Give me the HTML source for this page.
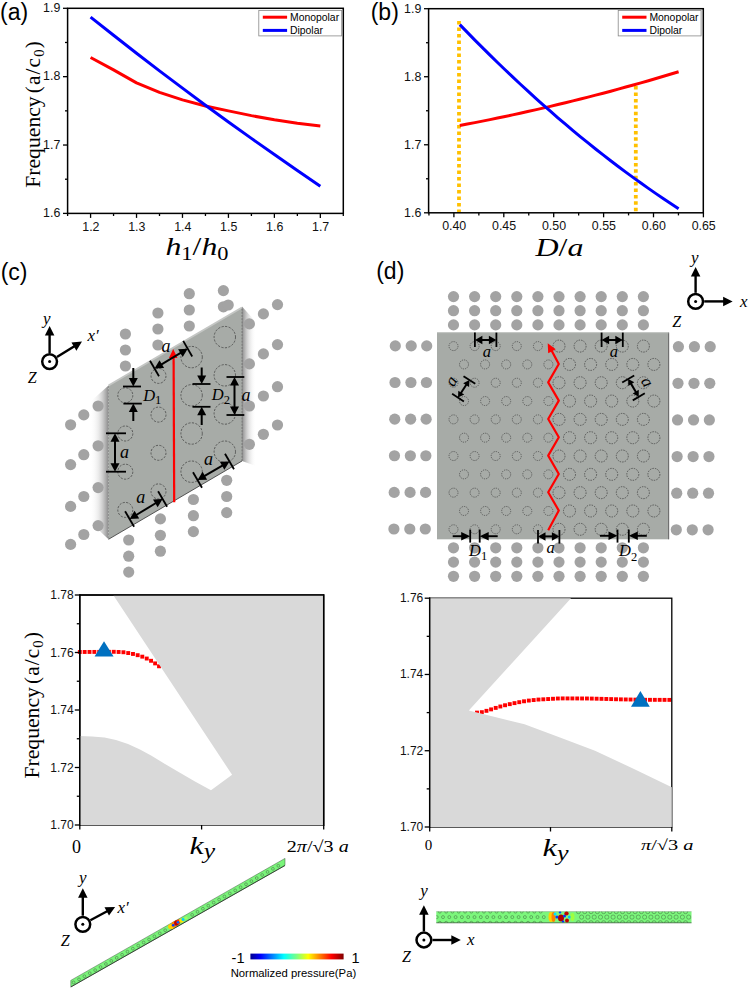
<!DOCTYPE html>
<html><head><meta charset="utf-8"><style>
html,body{margin:0;padding:0;background:#fff;width:750px;height:991px;overflow:hidden}
svg{display:block}
</style></head><body>
<svg width="750" height="991" viewBox="0 0 750 991">
<g id="pa">
<polyline points="90.58,57.52 113.55,69.83 136.53,82.82 159.5,92.39 182.48,99.91 205.45,106.06 228.43,110.85 251.4,115.64 274.38,119.74 297.35,123.16 320.33,125.89" fill="none" stroke="#ff0000" stroke-width="3" stroke-linejoin="round" stroke-linecap="butt" />
<polyline points="90.58,17.19 113.55,35.3 136.53,53.22 159.5,70.86 182.48,88.15 205.45,105.18 228.43,121.93 251.4,138.4 274.38,154.6 297.35,170.53 320.33,186.19" fill="none" stroke="#0000ff" stroke-width="3" stroke-linejoin="round" stroke-linecap="butt" />
<rect x="67.6" y="8.3" width="275.7" height="205.1" fill="none" stroke="#000" stroke-width="1.5"/>
<line x1="63" y1="213.4" x2="67.6" y2="213.4" stroke="#000" stroke-width="1.3" />
<text x="60.3" y="217.2" text-anchor="end" style='font-family:"Liberation Sans", sans-serif;font-size:12.4px;' fill="#111" >1.6</text>
<line x1="63" y1="145.03" x2="67.6" y2="145.03" stroke="#000" stroke-width="1.3" />
<text x="60.3" y="148.83" text-anchor="end" style='font-family:"Liberation Sans", sans-serif;font-size:12.4px;' fill="#111" >1.7</text>
<line x1="63" y1="76.67" x2="67.6" y2="76.67" stroke="#000" stroke-width="1.3" />
<text x="60.3" y="80.47" text-anchor="end" style='font-family:"Liberation Sans", sans-serif;font-size:12.4px;' fill="#111" >1.8</text>
<line x1="63" y1="8.3" x2="67.6" y2="8.3" stroke="#000" stroke-width="1.3" />
<text x="60.3" y="12.1" text-anchor="end" style='font-family:"Liberation Sans", sans-serif;font-size:12.4px;' fill="#111" >1.9</text>
<line x1="65" y1="179.22" x2="67.6" y2="179.22" stroke="#000" stroke-width="1.3" />
<line x1="65" y1="110.85" x2="67.6" y2="110.85" stroke="#000" stroke-width="1.3" />
<line x1="65" y1="42.48" x2="67.6" y2="42.48" stroke="#000" stroke-width="1.3" />
<line x1="90.58" y1="213.4" x2="90.58" y2="217.9" stroke="#000" stroke-width="1.3" />
<text x="90.88" y="230.5" text-anchor="middle" style='font-family:"Liberation Sans", sans-serif;font-size:12.4px;' fill="#111" >1.2</text>
<line x1="136.53" y1="213.4" x2="136.53" y2="217.9" stroke="#000" stroke-width="1.3" />
<text x="136.83" y="230.5" text-anchor="middle" style='font-family:"Liberation Sans", sans-serif;font-size:12.4px;' fill="#111" >1.3</text>
<line x1="182.48" y1="213.4" x2="182.48" y2="217.9" stroke="#000" stroke-width="1.3" />
<text x="182.78" y="230.5" text-anchor="middle" style='font-family:"Liberation Sans", sans-serif;font-size:12.4px;' fill="#111" >1.4</text>
<line x1="228.43" y1="213.4" x2="228.43" y2="217.9" stroke="#000" stroke-width="1.3" />
<text x="228.73" y="230.5" text-anchor="middle" style='font-family:"Liberation Sans", sans-serif;font-size:12.4px;' fill="#111" >1.5</text>
<line x1="274.38" y1="213.4" x2="274.38" y2="217.9" stroke="#000" stroke-width="1.3" />
<text x="274.68" y="230.5" text-anchor="middle" style='font-family:"Liberation Sans", sans-serif;font-size:12.4px;' fill="#111" >1.6</text>
<line x1="320.33" y1="213.4" x2="320.33" y2="217.9" stroke="#000" stroke-width="1.3" />
<text x="320.63" y="230.5" text-anchor="middle" style='font-family:"Liberation Sans", sans-serif;font-size:12.4px;' fill="#111" >1.7</text>
<line x1="67.6" y1="213.4" x2="67.6" y2="216" stroke="#000" stroke-width="1.3" />
<line x1="113.55" y1="213.4" x2="113.55" y2="216" stroke="#000" stroke-width="1.3" />
<line x1="159.5" y1="213.4" x2="159.5" y2="216" stroke="#000" stroke-width="1.3" />
<line x1="205.45" y1="213.4" x2="205.45" y2="216" stroke="#000" stroke-width="1.3" />
<line x1="251.4" y1="213.4" x2="251.4" y2="216" stroke="#000" stroke-width="1.3" />
<line x1="297.35" y1="213.4" x2="297.35" y2="216" stroke="#000" stroke-width="1.3" />
<line x1="343.3" y1="213.4" x2="343.3" y2="216" stroke="#000" stroke-width="1.3" />
<rect x="258.8" y="10.4" width="82.9" height="25.5" fill="#fff" stroke="#888" stroke-width="0.8"/>
<line x1="262.8" y1="17.2" x2="287.1" y2="17.2" stroke="#ff0000" stroke-width="3" />
<line x1="262.8" y1="30.4" x2="287.1" y2="30.4" stroke="#0000ff" stroke-width="3" />
<text x="290" y="20.8" text-anchor="start" style='font-family:"Liberation Sans", sans-serif;font-size:10.4px;' fill="#000" >Monopolar</text>
<text x="290" y="33.8" text-anchor="start" style='font-family:"Liberation Sans", sans-serif;font-size:10.4px;' fill="#000" >Dipolar</text>
</g>
<g id="pb">
<line x1="459" y1="21" x2="459" y2="212.5" stroke="#ffc000" stroke-width="3.8" stroke-dasharray="3.4 3.1"/>
<line x1="635.8" y1="86.1" x2="635.8" y2="212.5" stroke="#ffc000" stroke-width="3.8" stroke-dasharray="3.5 2.9"/>
<polyline points="459.8,125.49 467.34,124.06 474.89,122.61 482.43,121.12 489.98,119.6 497.52,118.06 505.07,116.48 512.61,114.87 520.16,113.23 527.7,111.56 535.25,109.86 542.79,108.13 550.34,106.37 557.88,104.58 565.43,102.76 572.97,100.9 580.52,99.02 588.06,97.1 595.61,95.16 603.15,93.18 610.7,91.18 618.24,89.14 625.79,87.07 633.33,84.98 640.88,82.85 648.42,80.69 655.97,78.5 663.51,76.28 671.06,74.03 678.6,71.75" fill="none" stroke="#ff0000" stroke-width="3" stroke-linejoin="round" stroke-linecap="butt" />
<polyline points="459.8,24.63 467.34,32.4 474.89,40.08 482.43,47.65 489.98,55.12 497.52,62.49 505.07,69.76 512.61,76.92 520.16,83.98 527.7,90.94 535.25,97.8 542.79,104.55 550.34,111.21 557.88,117.76 565.43,124.21 572.97,130.55 580.52,136.8 588.06,142.94 595.61,148.98 603.15,154.91 610.7,160.75 618.24,166.48 625.79,172.11 633.33,177.64 640.88,183.07 648.42,188.39 655.97,193.62 663.51,198.74 671.06,203.75 678.6,208.67" fill="none" stroke="#0000ff" stroke-width="3" stroke-linejoin="round" stroke-linecap="butt" />
<rect x="428.6" y="8.7" width="274.7" height="204.1" fill="none" stroke="#000" stroke-width="1.5"/>
<line x1="424" y1="212.8" x2="428.6" y2="212.8" stroke="#000" stroke-width="1.3" />
<text x="421.3" y="216.6" text-anchor="end" style='font-family:"Liberation Sans", sans-serif;font-size:12.4px;' fill="#111" >1.6</text>
<line x1="424" y1="144.77" x2="428.6" y2="144.77" stroke="#000" stroke-width="1.3" />
<text x="421.3" y="148.57" text-anchor="end" style='font-family:"Liberation Sans", sans-serif;font-size:12.4px;' fill="#111" >1.7</text>
<line x1="424" y1="76.73" x2="428.6" y2="76.73" stroke="#000" stroke-width="1.3" />
<text x="421.3" y="80.53" text-anchor="end" style='font-family:"Liberation Sans", sans-serif;font-size:12.4px;' fill="#111" >1.8</text>
<line x1="424" y1="8.7" x2="428.6" y2="8.7" stroke="#000" stroke-width="1.3" />
<text x="421.3" y="12.5" text-anchor="end" style='font-family:"Liberation Sans", sans-serif;font-size:12.4px;' fill="#111" >1.9</text>
<line x1="426" y1="178.78" x2="428.6" y2="178.78" stroke="#000" stroke-width="1.3" />
<line x1="426" y1="110.75" x2="428.6" y2="110.75" stroke="#000" stroke-width="1.3" />
<line x1="426" y1="42.72" x2="428.6" y2="42.72" stroke="#000" stroke-width="1.3" />
<line x1="453.9" y1="212.8" x2="453.9" y2="217.3" stroke="#000" stroke-width="1.3" />
<text x="454.2" y="229.9" text-anchor="middle" style='font-family:"Liberation Sans", sans-serif;font-size:12.4px;' fill="#111" >0.40</text>
<line x1="503.8" y1="212.8" x2="503.8" y2="217.3" stroke="#000" stroke-width="1.3" />
<text x="504.1" y="229.9" text-anchor="middle" style='font-family:"Liberation Sans", sans-serif;font-size:12.4px;' fill="#111" >0.45</text>
<line x1="553.7" y1="212.8" x2="553.7" y2="217.3" stroke="#000" stroke-width="1.3" />
<text x="554" y="229.9" text-anchor="middle" style='font-family:"Liberation Sans", sans-serif;font-size:12.4px;' fill="#111" >0.50</text>
<line x1="603.6" y1="212.8" x2="603.6" y2="217.3" stroke="#000" stroke-width="1.3" />
<text x="603.9" y="229.9" text-anchor="middle" style='font-family:"Liberation Sans", sans-serif;font-size:12.4px;' fill="#111" >0.55</text>
<line x1="653.5" y1="212.8" x2="653.5" y2="217.3" stroke="#000" stroke-width="1.3" />
<text x="653.8" y="229.9" text-anchor="middle" style='font-family:"Liberation Sans", sans-serif;font-size:12.4px;' fill="#111" >0.60</text>
<line x1="703.4" y1="212.8" x2="703.4" y2="217.3" stroke="#000" stroke-width="1.3" />
<text x="703.7" y="229.9" text-anchor="middle" style='font-family:"Liberation Sans", sans-serif;font-size:12.4px;' fill="#111" >0.65</text>
<line x1="428.95" y1="212.8" x2="428.95" y2="215.4" stroke="#000" stroke-width="1.3" />
<line x1="478.85" y1="212.8" x2="478.85" y2="215.4" stroke="#000" stroke-width="1.3" />
<line x1="528.75" y1="212.8" x2="528.75" y2="215.4" stroke="#000" stroke-width="1.3" />
<line x1="578.65" y1="212.8" x2="578.65" y2="215.4" stroke="#000" stroke-width="1.3" />
<line x1="628.55" y1="212.8" x2="628.55" y2="215.4" stroke="#000" stroke-width="1.3" />
<line x1="678.45" y1="212.8" x2="678.45" y2="215.4" stroke="#000" stroke-width="1.3" />
<rect x="618.2" y="10.4" width="82.9" height="25.5" fill="#fff" stroke="#888" stroke-width="0.8"/>
<line x1="622.2" y1="17.2" x2="646.5" y2="17.2" stroke="#ff0000" stroke-width="3" />
<line x1="622.2" y1="30.4" x2="646.5" y2="30.4" stroke="#0000ff" stroke-width="3" />
<text x="649.4" y="20.8" text-anchor="start" style='font-family:"Liberation Sans", sans-serif;font-size:10.4px;' fill="#000" >Monopolar</text>
<text x="649.4" y="33.8" text-anchor="start" style='font-family:"Liberation Sans", sans-serif;font-size:10.4px;' fill="#000" >Dipolar</text>
</g>
<text x="0" y="20" text-anchor="start" style='font-family:"Liberation Sans", sans-serif;font-size:23px;' fill="#000" >(a)</text>
<text x="370.7" y="20" text-anchor="start" style='font-family:"Liberation Sans", sans-serif;font-size:23px;' fill="#000" >(b)</text>
<text x="0.7" y="280.3" text-anchor="start" style='font-family:"Liberation Sans", sans-serif;font-size:23px;' fill="#000" >(c)</text>
<text x="376.2" y="278.8" text-anchor="start" style='font-family:"Liberation Sans", sans-serif;font-size:23px;' fill="#000" >(d)</text>
<g transform="translate(39.6,187.8) rotate(-90)" style='font-family:"Liberation Serif", serif;font-size:21.2px'><text x="0" y="0" textLength="91.5" lengthAdjust="spacingAndGlyphs">Frequency</text><text x="94.6" y="0" textLength="52" lengthAdjust="spacing">(a/c<tspan font-size="14.8" dy="4">0</tspan><tspan dy="-4">)</tspan></text></g>
<g transform="translate(39.4,778.6) rotate(-90)" style='font-family:"Liberation Serif", serif;font-size:21.2px'><text x="0" y="0" textLength="91.5" lengthAdjust="spacingAndGlyphs">Frequency</text><text x="94.6" y="0" textLength="52" lengthAdjust="spacing">(a/c<tspan font-size="14.8" dy="4">0</tspan><tspan dy="-4">)</tspan></text></g>
<text x="165.5" y="255" textLength="63" lengthAdjust="spacingAndGlyphs" style='font-family:"Liberation Serif", serif;font-size:25.5px;font-style:italic'>h<tspan font-size="18" dy="5" font-style="normal">1</tspan><tspan dy="-5" font-style="normal">/</tspan>h<tspan font-size="18" dy="5" font-style="normal">0</tspan></text>
<text x="535.5" y="255.8" textLength="48" lengthAdjust="spacingAndGlyphs" style='font-family:"Liberation Serif", serif;font-size:25.5px;font-style:italic'>D<tspan font-style="normal">/</tspan>a</text>
<g id="pc">
<defs>
<linearGradient id="shL" x1="0" x2="1" y1="0" y2="0"><stop offset="0" stop-color="#fff" stop-opacity="0"/><stop offset="0.45" stop-color="#d8d8d8" stop-opacity="0.5"/><stop offset="1" stop-color="#8a8a8a" stop-opacity="1"/></linearGradient>
<linearGradient id="shR" x1="0" x2="1" y1="0" y2="0"><stop offset="0" stop-color="#8a8a8a" stop-opacity="1"/><stop offset="0.5" stop-color="#d0d0d0" stop-opacity="0.6"/><stop offset="1" stop-color="#fff" stop-opacity="0"/></linearGradient>
</defs>
<polygon points="90,402 108.5,385.5 108.5,539.3 90,522" fill="url(#shL)" />
<polygon points="242,306.4 256,322 256,466 242,461" fill="url(#shR)" />
<circle cx="125.4" cy="334" r="5.6" fill="#a3a3a3"/>
<circle cx="125.4" cy="350" r="5.6" fill="#a3a3a3"/>
<circle cx="125.4" cy="366" r="5.6" fill="#a3a3a3"/>
<circle cx="157.9" cy="313" r="5.6" fill="#a3a3a3"/>
<circle cx="157.9" cy="329" r="5.6" fill="#a3a3a3"/>
<circle cx="157.9" cy="345" r="5.6" fill="#a3a3a3"/>
<circle cx="189.3" cy="293.7" r="5.6" fill="#a3a3a3"/>
<circle cx="189.3" cy="310" r="5.6" fill="#a3a3a3"/>
<circle cx="189.3" cy="326" r="5.6" fill="#a3a3a3"/>
<circle cx="223.4" cy="290.6" r="5.6" fill="#a3a3a3"/>
<circle cx="223.4" cy="306.8" r="5.6" fill="#a3a3a3"/>
<circle cx="228.2" cy="305" r="5.6" fill="#a3a3a3"/>
<circle cx="98.1" cy="406" r="5.6" fill="#a3a3a3"/>
<circle cx="83.8" cy="414.9" r="5.6" fill="#a3a3a3"/>
<circle cx="70.6" cy="424.8" r="5.6" fill="#a3a3a3"/>
<circle cx="98.1" cy="445.8" r="5.6" fill="#a3a3a3"/>
<circle cx="83.8" cy="454.7" r="5.6" fill="#a3a3a3"/>
<circle cx="70.6" cy="464.6" r="5.6" fill="#a3a3a3"/>
<circle cx="98.1" cy="487.6" r="5.6" fill="#a3a3a3"/>
<circle cx="83.8" cy="496.5" r="5.6" fill="#a3a3a3"/>
<circle cx="70.6" cy="506.4" r="5.6" fill="#a3a3a3"/>
<circle cx="98.1" cy="525.6" r="5.6" fill="#a3a3a3"/>
<circle cx="83.8" cy="534.5" r="5.6" fill="#a3a3a3"/>
<circle cx="70.6" cy="544.4" r="5.6" fill="#a3a3a3"/>
<circle cx="249.4" cy="323.9" r="5.6" fill="#a3a3a3"/>
<circle cx="263.4" cy="313.9" r="5.6" fill="#a3a3a3"/>
<circle cx="277.5" cy="304.6" r="5.6" fill="#a3a3a3"/>
<circle cx="249.4" cy="363.9" r="5.6" fill="#a3a3a3"/>
<circle cx="263.4" cy="353.9" r="5.6" fill="#a3a3a3"/>
<circle cx="277.5" cy="344.6" r="5.6" fill="#a3a3a3"/>
<circle cx="249.4" cy="406" r="5.6" fill="#a3a3a3"/>
<circle cx="263.4" cy="396" r="5.6" fill="#a3a3a3"/>
<circle cx="277.5" cy="386.7" r="5.6" fill="#a3a3a3"/>
<circle cx="249.4" cy="444.3" r="5.6" fill="#a3a3a3"/>
<circle cx="263.4" cy="434.3" r="5.6" fill="#a3a3a3"/>
<circle cx="277.5" cy="425" r="5.6" fill="#a3a3a3"/>
<circle cx="128.7" cy="540" r="5.6" fill="#a3a3a3"/>
<circle cx="128.7" cy="556.2" r="5.6" fill="#a3a3a3"/>
<circle cx="128.7" cy="572.1" r="5.6" fill="#a3a3a3"/>
<circle cx="160.4" cy="518.9" r="5.6" fill="#a3a3a3"/>
<circle cx="160.4" cy="535.3" r="5.6" fill="#a3a3a3"/>
<circle cx="160.4" cy="551.2" r="5.6" fill="#a3a3a3"/>
<circle cx="193.4" cy="499.5" r="5.6" fill="#a3a3a3"/>
<circle cx="193.4" cy="515.7" r="5.6" fill="#a3a3a3"/>
<circle cx="193.4" cy="531.6" r="5.6" fill="#a3a3a3"/>
<circle cx="226.7" cy="480.3" r="5.6" fill="#a3a3a3"/>
<circle cx="226.7" cy="496.5" r="5.6" fill="#a3a3a3"/>
<circle cx="226.7" cy="512.6" r="5.6" fill="#a3a3a3"/>
<polygon points="108.5,385.5 242,307.5 242,461 108.5,539.3" fill="#a7aba7" />
<polyline points="108.5,385.5 242,307.5" stroke="#c4c6c4" stroke-width="2" fill="none"/>
<polyline points="108.5,386 108.5,539.3" fill="none" stroke="#6a6a6a" stroke-width="0.5" stroke-dasharray="2 1.2"/>
<polyline points="242,461 242,307.5" fill="none" stroke="#555" stroke-width="0.55" stroke-dasharray="2 1.2"/>
<polyline points="108.5,539.3 242,461" fill="none" stroke="#333" stroke-width="0.8"/>
<circle cx="125.3" cy="395.3" r="7.5" fill="none" stroke="#3a3a3a" stroke-width="0.7" stroke-dasharray="2.2 1.4"/>
<circle cx="125.3" cy="433.5" r="7.5" fill="none" stroke="#3a3a3a" stroke-width="0.7" stroke-dasharray="2.2 1.4"/>
<circle cx="125.3" cy="471.7" r="7.5" fill="none" stroke="#3a3a3a" stroke-width="0.7" stroke-dasharray="2.2 1.4"/>
<circle cx="125.3" cy="509.9" r="7.5" fill="none" stroke="#3a3a3a" stroke-width="0.7" stroke-dasharray="2.2 1.4"/>
<circle cx="158.5" cy="375.9" r="7.5" fill="none" stroke="#3a3a3a" stroke-width="0.7" stroke-dasharray="2.2 1.4"/>
<circle cx="158.5" cy="414.6" r="7.5" fill="none" stroke="#3a3a3a" stroke-width="0.7" stroke-dasharray="2.2 1.4"/>
<circle cx="158.5" cy="452.8" r="7.5" fill="none" stroke="#3a3a3a" stroke-width="0.7" stroke-dasharray="2.2 1.4"/>
<circle cx="158.5" cy="491.4" r="7.5" fill="none" stroke="#3a3a3a" stroke-width="0.7" stroke-dasharray="2.2 1.4"/>
<circle cx="191.6" cy="357.1" r="10.7" fill="none" stroke="#3a3a3a" stroke-width="0.7" stroke-dasharray="2.2 1.4"/>
<circle cx="191.6" cy="395.3" r="10.7" fill="none" stroke="#3a3a3a" stroke-width="0.7" stroke-dasharray="2.2 1.4"/>
<circle cx="191.6" cy="433.5" r="10.7" fill="none" stroke="#3a3a3a" stroke-width="0.7" stroke-dasharray="2.2 1.4"/>
<circle cx="191.6" cy="471.7" r="10.7" fill="none" stroke="#3a3a3a" stroke-width="0.7" stroke-dasharray="2.2 1.4"/>
<circle cx="224.8" cy="337.1" r="10.7" fill="none" stroke="#3a3a3a" stroke-width="0.7" stroke-dasharray="2.2 1.4"/>
<circle cx="224.8" cy="375.3" r="10.7" fill="none" stroke="#3a3a3a" stroke-width="0.7" stroke-dasharray="2.2 1.4"/>
<circle cx="224.8" cy="413.5" r="10.7" fill="none" stroke="#3a3a3a" stroke-width="0.7" stroke-dasharray="2.2 1.4"/>
<circle cx="224.8" cy="451.7" r="10.7" fill="none" stroke="#3a3a3a" stroke-width="0.7" stroke-dasharray="2.2 1.4"/>
<line x1="173.6" y1="357" x2="174.2" y2="502.3" stroke="#ff0000" stroke-width="2.2" />
<polygon points="173.2,349 177.45,358 168.95,358" fill="#ff0000" />
<line x1="133.3" y1="368" x2="133.3" y2="380" stroke="#000" stroke-width="2" />
<polygon points="133.3,386.5 128.8,378 137.8,378" fill="#000" />
<line x1="123" y1="386.5" x2="141" y2="386.5" stroke="#000" stroke-width="1.8" />
<line x1="123.4" y1="403.6" x2="141.8" y2="403.6" stroke="#000" stroke-width="1.8" />
<line x1="133.3" y1="421" x2="133.3" y2="410" stroke="#000" stroke-width="2" />
<polygon points="133.3,403.6 137.8,412.1 128.8,412.1" fill="#000" />
<text x="143.2" y="400.6" style='font-family:"Liberation Serif", serif;font-size:16.5px;font-style:italic'>D<tspan font-size="12.5" dy="3.8" font-style="normal">1</tspan></text>
<line x1="201.7" y1="367.5" x2="201.7" y2="378" stroke="#000" stroke-width="2" />
<polygon points="201.7,384 197.2,375.5 206.2,375.5" fill="#000" />
<line x1="192.5" y1="384" x2="210.5" y2="384" stroke="#000" stroke-width="1.8" />
<line x1="192.5" y1="406.8" x2="210.5" y2="406.8" stroke="#000" stroke-width="1.8" />
<line x1="201.7" y1="425" x2="201.7" y2="413" stroke="#000" stroke-width="2" />
<polygon points="201.7,406.8 206.2,415.3 197.2,415.3" fill="#000" />
<text x="211.8" y="400.2" style='font-family:"Liberation Serif", serif;font-size:16.5px;font-style:italic'>D<tspan font-size="12.5" dy="3.8" font-style="normal">2</tspan></text>
<line x1="226.5" y1="377" x2="244.3" y2="377" stroke="#000" stroke-width="1.8" />
<line x1="226.5" y1="415" x2="244.3" y2="415" stroke="#000" stroke-width="1.8" />
<line x1="234.5" y1="383.8" x2="234.5" y2="408.2" stroke="#000" stroke-width="2" />
<polygon points="234.5,415 230,406.5 239,406.5" fill="#000" />
<polygon points="234.5,377 239,385.5 230,385.5" fill="#000" />
<line x1="106" y1="433.3" x2="126" y2="433.3" stroke="#000" stroke-width="1.8" />
<line x1="106" y1="471.7" x2="126" y2="471.7" stroke="#000" stroke-width="1.8" />
<line x1="115" y1="440.1" x2="115" y2="464.9" stroke="#000" stroke-width="2" />
<polygon points="115,471.7 110.5,463.2 119.5,463.2" fill="#000" />
<polygon points="115,433.3 119.5,441.8 110.5,441.8" fill="#000" />
<text x="241.6" y="400.5" style='font-family:"Liberation Serif", serif;font-size:18px;font-style:italic'>a</text>
<text x="120" y="458" style='font-family:"Liberation Serif", serif;font-size:18px;font-style:italic'>a</text>
<line x1="150" y1="360.71" x2="159" y2="376.29" stroke="#000" stroke-width="1.8" />
<line x1="183.2" y1="340.91" x2="192.2" y2="356.49" stroke="#000" stroke-width="1.8" />
<line x1="160.34" y1="365.02" x2="181.86" y2="352.18" stroke="#000" stroke-width="2" />
<polygon points="187.7,348.7 182.7,356.92 178.09,349.19" fill="#000" />
<polygon points="154.5,368.5 159.5,360.28 164.11,368.01" fill="#000" />
<text x="166" y="352" text-anchor="middle" style='font-family:"Liberation Serif", serif;font-size:18px;font-style:italic'>a</text>
<line x1="125.1" y1="511.21" x2="134.1" y2="526.79" stroke="#000" stroke-width="1.8" />
<line x1="158.1" y1="491.21" x2="167.1" y2="506.79" stroke="#000" stroke-width="1.8" />
<line x1="135.42" y1="515.48" x2="156.78" y2="502.52" stroke="#000" stroke-width="2" />
<polygon points="162.6,499 157.66,507.25 153,499.56" fill="#000" />
<polygon points="129.6,519 134.54,510.75 139.2,518.44" fill="#000" />
<text x="140.8" y="502.7" text-anchor="middle" style='font-family:"Liberation Serif", serif;font-size:18px;font-style:italic'>a</text>
<line x1="193" y1="472.21" x2="202" y2="487.79" stroke="#000" stroke-width="1.8" />
<line x1="225" y1="453.71" x2="234" y2="469.29" stroke="#000" stroke-width="1.8" />
<line x1="203.39" y1="476.6" x2="223.61" y2="464.9" stroke="#000" stroke-width="2" />
<polygon points="229.5,461.5 224.39,469.65 219.89,461.86" fill="#000" />
<polygon points="197.5,480 202.61,471.85 207.11,479.64" fill="#000" />
<text x="208.5" y="465" text-anchor="middle" style='font-family:"Liberation Serif", serif;font-size:18px;font-style:italic'>a</text>
<circle cx="49.6" cy="361.6" r="7.4" fill="#fff" stroke="#000" stroke-width="2.5"/>
<circle cx="49.6" cy="361.6" r="1.5" fill="#000"/>
<line x1="49.6" y1="353" x2="49.6" y2="334" stroke="#000" stroke-width="2.4" />
<polygon points="49.6,326 54.35,335.5 44.85,335.5" fill="#000" />
<line x1="56.92" y1="357.08" x2="75.19" y2="345.8" stroke="#000" stroke-width="2.4" />
<polygon points="82,341.6 76.41,350.63 71.42,342.55" fill="#000" />
<text x="46.7" y="324" text-anchor="middle" style='font-family:"Liberation Serif", serif;font-size:17px;font-style:italic'>y</text>
<text x="32.3" y="383.3" text-anchor="middle" style='font-family:"Liberation Serif", serif;font-size:16px;font-style:italic'>Z</text>
<text x="87.5" y="340.7" style='font-family:"Liberation Serif", serif;font-size:17px;font-style:italic'>x&#8242;</text>
</g>
<g id="pd">
<circle cx="453.5" cy="296.6" r="5.6" fill="#a3a3a3"/>
<circle cx="453.5" cy="310.7" r="5.6" fill="#a3a3a3"/>
<circle cx="453.5" cy="324.9" r="5.6" fill="#a3a3a3"/>
<circle cx="453.5" cy="547.8" r="5.6" fill="#a3a3a3"/>
<circle cx="453.5" cy="562.1" r="5.6" fill="#a3a3a3"/>
<circle cx="453.5" cy="576.3" r="5.6" fill="#a3a3a3"/>
<circle cx="474.6" cy="296.6" r="5.6" fill="#a3a3a3"/>
<circle cx="474.6" cy="310.7" r="5.6" fill="#a3a3a3"/>
<circle cx="474.6" cy="324.9" r="5.6" fill="#a3a3a3"/>
<circle cx="474.6" cy="547.8" r="5.6" fill="#a3a3a3"/>
<circle cx="474.6" cy="562.1" r="5.6" fill="#a3a3a3"/>
<circle cx="474.6" cy="576.3" r="5.6" fill="#a3a3a3"/>
<circle cx="495.7" cy="296.6" r="5.6" fill="#a3a3a3"/>
<circle cx="495.7" cy="310.7" r="5.6" fill="#a3a3a3"/>
<circle cx="495.7" cy="324.9" r="5.6" fill="#a3a3a3"/>
<circle cx="495.7" cy="547.8" r="5.6" fill="#a3a3a3"/>
<circle cx="495.7" cy="562.1" r="5.6" fill="#a3a3a3"/>
<circle cx="495.7" cy="576.3" r="5.6" fill="#a3a3a3"/>
<circle cx="516.8" cy="296.6" r="5.6" fill="#a3a3a3"/>
<circle cx="516.8" cy="310.7" r="5.6" fill="#a3a3a3"/>
<circle cx="516.8" cy="324.9" r="5.6" fill="#a3a3a3"/>
<circle cx="516.8" cy="547.8" r="5.6" fill="#a3a3a3"/>
<circle cx="516.8" cy="562.1" r="5.6" fill="#a3a3a3"/>
<circle cx="516.8" cy="576.3" r="5.6" fill="#a3a3a3"/>
<circle cx="537.9" cy="296.6" r="5.6" fill="#a3a3a3"/>
<circle cx="537.9" cy="310.7" r="5.6" fill="#a3a3a3"/>
<circle cx="537.9" cy="324.9" r="5.6" fill="#a3a3a3"/>
<circle cx="537.9" cy="547.8" r="5.6" fill="#a3a3a3"/>
<circle cx="537.9" cy="562.1" r="5.6" fill="#a3a3a3"/>
<circle cx="537.9" cy="576.3" r="5.6" fill="#a3a3a3"/>
<circle cx="559" cy="296.6" r="5.6" fill="#a3a3a3"/>
<circle cx="559" cy="310.7" r="5.6" fill="#a3a3a3"/>
<circle cx="559" cy="324.9" r="5.6" fill="#a3a3a3"/>
<circle cx="559" cy="547.8" r="5.6" fill="#a3a3a3"/>
<circle cx="559" cy="562.1" r="5.6" fill="#a3a3a3"/>
<circle cx="559" cy="576.3" r="5.6" fill="#a3a3a3"/>
<circle cx="580.1" cy="296.6" r="5.6" fill="#a3a3a3"/>
<circle cx="580.1" cy="310.7" r="5.6" fill="#a3a3a3"/>
<circle cx="580.1" cy="324.9" r="5.6" fill="#a3a3a3"/>
<circle cx="580.1" cy="547.8" r="5.6" fill="#a3a3a3"/>
<circle cx="580.1" cy="562.1" r="5.6" fill="#a3a3a3"/>
<circle cx="580.1" cy="576.3" r="5.6" fill="#a3a3a3"/>
<circle cx="601.2" cy="296.6" r="5.6" fill="#a3a3a3"/>
<circle cx="601.2" cy="310.7" r="5.6" fill="#a3a3a3"/>
<circle cx="601.2" cy="324.9" r="5.6" fill="#a3a3a3"/>
<circle cx="601.2" cy="547.8" r="5.6" fill="#a3a3a3"/>
<circle cx="601.2" cy="562.1" r="5.6" fill="#a3a3a3"/>
<circle cx="601.2" cy="576.3" r="5.6" fill="#a3a3a3"/>
<circle cx="622.3" cy="296.6" r="5.6" fill="#a3a3a3"/>
<circle cx="622.3" cy="310.7" r="5.6" fill="#a3a3a3"/>
<circle cx="622.3" cy="324.9" r="5.6" fill="#a3a3a3"/>
<circle cx="622.3" cy="547.8" r="5.6" fill="#a3a3a3"/>
<circle cx="622.3" cy="562.1" r="5.6" fill="#a3a3a3"/>
<circle cx="622.3" cy="576.3" r="5.6" fill="#a3a3a3"/>
<circle cx="643.4" cy="296.6" r="5.6" fill="#a3a3a3"/>
<circle cx="643.4" cy="310.7" r="5.6" fill="#a3a3a3"/>
<circle cx="643.4" cy="324.9" r="5.6" fill="#a3a3a3"/>
<circle cx="643.4" cy="547.8" r="5.6" fill="#a3a3a3"/>
<circle cx="643.4" cy="562.1" r="5.6" fill="#a3a3a3"/>
<circle cx="643.4" cy="576.3" r="5.6" fill="#a3a3a3"/>
<circle cx="395.3" cy="345.9" r="5.6" fill="#a3a3a3"/>
<circle cx="411.2" cy="345.9" r="5.6" fill="#a3a3a3"/>
<circle cx="426.7" cy="345.9" r="5.6" fill="#a3a3a3"/>
<circle cx="678.4" cy="346.7" r="5.6" fill="#a3a3a3"/>
<circle cx="694.4" cy="346.7" r="5.6" fill="#a3a3a3"/>
<circle cx="710.2" cy="346.7" r="5.6" fill="#a3a3a3"/>
<circle cx="395.02" cy="382.52" r="5.6" fill="#a3a3a3"/>
<circle cx="410.92" cy="382.52" r="5.6" fill="#a3a3a3"/>
<circle cx="426.42" cy="382.52" r="5.6" fill="#a3a3a3"/>
<circle cx="677.98" cy="383.32" r="5.6" fill="#a3a3a3"/>
<circle cx="693.98" cy="383.32" r="5.6" fill="#a3a3a3"/>
<circle cx="709.78" cy="383.32" r="5.6" fill="#a3a3a3"/>
<circle cx="394.74" cy="419.14" r="5.6" fill="#a3a3a3"/>
<circle cx="410.64" cy="419.14" r="5.6" fill="#a3a3a3"/>
<circle cx="426.14" cy="419.14" r="5.6" fill="#a3a3a3"/>
<circle cx="677.56" cy="419.94" r="5.6" fill="#a3a3a3"/>
<circle cx="693.56" cy="419.94" r="5.6" fill="#a3a3a3"/>
<circle cx="709.36" cy="419.94" r="5.6" fill="#a3a3a3"/>
<circle cx="394.46" cy="455.76" r="5.6" fill="#a3a3a3"/>
<circle cx="410.36" cy="455.76" r="5.6" fill="#a3a3a3"/>
<circle cx="425.86" cy="455.76" r="5.6" fill="#a3a3a3"/>
<circle cx="677.14" cy="456.56" r="5.6" fill="#a3a3a3"/>
<circle cx="693.14" cy="456.56" r="5.6" fill="#a3a3a3"/>
<circle cx="708.94" cy="456.56" r="5.6" fill="#a3a3a3"/>
<circle cx="394.18" cy="492.38" r="5.6" fill="#a3a3a3"/>
<circle cx="410.08" cy="492.38" r="5.6" fill="#a3a3a3"/>
<circle cx="425.58" cy="492.38" r="5.6" fill="#a3a3a3"/>
<circle cx="676.72" cy="493.18" r="5.6" fill="#a3a3a3"/>
<circle cx="692.72" cy="493.18" r="5.6" fill="#a3a3a3"/>
<circle cx="708.52" cy="493.18" r="5.6" fill="#a3a3a3"/>
<circle cx="393.9" cy="529" r="5.6" fill="#a3a3a3"/>
<circle cx="409.8" cy="529" r="5.6" fill="#a3a3a3"/>
<circle cx="425.3" cy="529" r="5.6" fill="#a3a3a3"/>
<circle cx="676.3" cy="529.8" r="5.6" fill="#a3a3a3"/>
<circle cx="692.3" cy="529.8" r="5.6" fill="#a3a3a3"/>
<circle cx="708.1" cy="529.8" r="5.6" fill="#a3a3a3"/>
<rect x="437" y="332.5" width="232" height="206.8" fill="#a7aba7"/>
<line x1="668.6" y1="332.5" x2="668.6" y2="539.3" stroke="#707070" stroke-width="1.2" />
<line x1="437" y1="332.8" x2="669" y2="332.8" stroke="#b8bab8" stroke-width="0.8" />
<circle cx="453.5" cy="346.1" r="4.5" fill="none" stroke="#3a3a3a" stroke-width="0.65" stroke-dasharray="1.3 1"/>
<circle cx="474.6" cy="346.1" r="4.5" fill="none" stroke="#3a3a3a" stroke-width="0.65" stroke-dasharray="1.3 1"/>
<circle cx="495.7" cy="346.1" r="4.5" fill="none" stroke="#3a3a3a" stroke-width="0.65" stroke-dasharray="1.3 1"/>
<circle cx="516.8" cy="346.1" r="4.5" fill="none" stroke="#3a3a3a" stroke-width="0.65" stroke-dasharray="1.3 1"/>
<circle cx="537.9" cy="346.1" r="4.5" fill="none" stroke="#3a3a3a" stroke-width="0.65" stroke-dasharray="1.3 1"/>
<circle cx="559" cy="346.1" r="6" fill="none" stroke="#3a3a3a" stroke-width="0.7" stroke-dasharray="1.5 1.1"/>
<circle cx="580.1" cy="346.1" r="6" fill="none" stroke="#3a3a3a" stroke-width="0.7" stroke-dasharray="1.5 1.1"/>
<circle cx="601.2" cy="346.1" r="6" fill="none" stroke="#3a3a3a" stroke-width="0.7" stroke-dasharray="1.5 1.1"/>
<circle cx="622.3" cy="346.1" r="6" fill="none" stroke="#3a3a3a" stroke-width="0.7" stroke-dasharray="1.5 1.1"/>
<circle cx="643.4" cy="346.1" r="6" fill="none" stroke="#3a3a3a" stroke-width="0.7" stroke-dasharray="1.5 1.1"/>
<circle cx="464" cy="364.42" r="4.5" fill="none" stroke="#3a3a3a" stroke-width="0.65" stroke-dasharray="1.3 1"/>
<circle cx="485.1" cy="364.42" r="4.5" fill="none" stroke="#3a3a3a" stroke-width="0.65" stroke-dasharray="1.3 1"/>
<circle cx="506.2" cy="364.42" r="4.5" fill="none" stroke="#3a3a3a" stroke-width="0.65" stroke-dasharray="1.3 1"/>
<circle cx="527.3" cy="364.42" r="4.5" fill="none" stroke="#3a3a3a" stroke-width="0.65" stroke-dasharray="1.3 1"/>
<circle cx="548.4" cy="364.42" r="4.5" fill="none" stroke="#3a3a3a" stroke-width="0.65" stroke-dasharray="1.3 1"/>
<circle cx="569.5" cy="364.42" r="6" fill="none" stroke="#3a3a3a" stroke-width="0.7" stroke-dasharray="1.5 1.1"/>
<circle cx="590.6" cy="364.42" r="6" fill="none" stroke="#3a3a3a" stroke-width="0.7" stroke-dasharray="1.5 1.1"/>
<circle cx="611.7" cy="364.42" r="6" fill="none" stroke="#3a3a3a" stroke-width="0.7" stroke-dasharray="1.5 1.1"/>
<circle cx="632.8" cy="364.42" r="6" fill="none" stroke="#3a3a3a" stroke-width="0.7" stroke-dasharray="1.5 1.1"/>
<circle cx="653.9" cy="364.42" r="6" fill="none" stroke="#3a3a3a" stroke-width="0.7" stroke-dasharray="1.5 1.1"/>
<circle cx="453.5" cy="382.74" r="4.5" fill="none" stroke="#3a3a3a" stroke-width="0.65" stroke-dasharray="1.3 1"/>
<circle cx="474.6" cy="382.74" r="4.5" fill="none" stroke="#3a3a3a" stroke-width="0.65" stroke-dasharray="1.3 1"/>
<circle cx="495.7" cy="382.74" r="4.5" fill="none" stroke="#3a3a3a" stroke-width="0.65" stroke-dasharray="1.3 1"/>
<circle cx="516.8" cy="382.74" r="4.5" fill="none" stroke="#3a3a3a" stroke-width="0.65" stroke-dasharray="1.3 1"/>
<circle cx="537.9" cy="382.74" r="4.5" fill="none" stroke="#3a3a3a" stroke-width="0.65" stroke-dasharray="1.3 1"/>
<circle cx="559" cy="382.74" r="6" fill="none" stroke="#3a3a3a" stroke-width="0.7" stroke-dasharray="1.5 1.1"/>
<circle cx="580.1" cy="382.74" r="6" fill="none" stroke="#3a3a3a" stroke-width="0.7" stroke-dasharray="1.5 1.1"/>
<circle cx="601.2" cy="382.74" r="6" fill="none" stroke="#3a3a3a" stroke-width="0.7" stroke-dasharray="1.5 1.1"/>
<circle cx="622.3" cy="382.74" r="6" fill="none" stroke="#3a3a3a" stroke-width="0.7" stroke-dasharray="1.5 1.1"/>
<circle cx="643.4" cy="382.74" r="6" fill="none" stroke="#3a3a3a" stroke-width="0.7" stroke-dasharray="1.5 1.1"/>
<circle cx="464" cy="401.06" r="4.5" fill="none" stroke="#3a3a3a" stroke-width="0.65" stroke-dasharray="1.3 1"/>
<circle cx="485.1" cy="401.06" r="4.5" fill="none" stroke="#3a3a3a" stroke-width="0.65" stroke-dasharray="1.3 1"/>
<circle cx="506.2" cy="401.06" r="4.5" fill="none" stroke="#3a3a3a" stroke-width="0.65" stroke-dasharray="1.3 1"/>
<circle cx="527.3" cy="401.06" r="4.5" fill="none" stroke="#3a3a3a" stroke-width="0.65" stroke-dasharray="1.3 1"/>
<circle cx="548.4" cy="401.06" r="4.5" fill="none" stroke="#3a3a3a" stroke-width="0.65" stroke-dasharray="1.3 1"/>
<circle cx="569.5" cy="401.06" r="6" fill="none" stroke="#3a3a3a" stroke-width="0.7" stroke-dasharray="1.5 1.1"/>
<circle cx="590.6" cy="401.06" r="6" fill="none" stroke="#3a3a3a" stroke-width="0.7" stroke-dasharray="1.5 1.1"/>
<circle cx="611.7" cy="401.06" r="6" fill="none" stroke="#3a3a3a" stroke-width="0.7" stroke-dasharray="1.5 1.1"/>
<circle cx="632.8" cy="401.06" r="6" fill="none" stroke="#3a3a3a" stroke-width="0.7" stroke-dasharray="1.5 1.1"/>
<circle cx="653.9" cy="401.06" r="6" fill="none" stroke="#3a3a3a" stroke-width="0.7" stroke-dasharray="1.5 1.1"/>
<circle cx="453.5" cy="419.38" r="4.5" fill="none" stroke="#3a3a3a" stroke-width="0.65" stroke-dasharray="1.3 1"/>
<circle cx="474.6" cy="419.38" r="4.5" fill="none" stroke="#3a3a3a" stroke-width="0.65" stroke-dasharray="1.3 1"/>
<circle cx="495.7" cy="419.38" r="4.5" fill="none" stroke="#3a3a3a" stroke-width="0.65" stroke-dasharray="1.3 1"/>
<circle cx="516.8" cy="419.38" r="4.5" fill="none" stroke="#3a3a3a" stroke-width="0.65" stroke-dasharray="1.3 1"/>
<circle cx="537.9" cy="419.38" r="4.5" fill="none" stroke="#3a3a3a" stroke-width="0.65" stroke-dasharray="1.3 1"/>
<circle cx="559" cy="419.38" r="6" fill="none" stroke="#3a3a3a" stroke-width="0.7" stroke-dasharray="1.5 1.1"/>
<circle cx="580.1" cy="419.38" r="6" fill="none" stroke="#3a3a3a" stroke-width="0.7" stroke-dasharray="1.5 1.1"/>
<circle cx="601.2" cy="419.38" r="6" fill="none" stroke="#3a3a3a" stroke-width="0.7" stroke-dasharray="1.5 1.1"/>
<circle cx="622.3" cy="419.38" r="6" fill="none" stroke="#3a3a3a" stroke-width="0.7" stroke-dasharray="1.5 1.1"/>
<circle cx="643.4" cy="419.38" r="6" fill="none" stroke="#3a3a3a" stroke-width="0.7" stroke-dasharray="1.5 1.1"/>
<circle cx="464" cy="437.7" r="4.5" fill="none" stroke="#3a3a3a" stroke-width="0.65" stroke-dasharray="1.3 1"/>
<circle cx="485.1" cy="437.7" r="4.5" fill="none" stroke="#3a3a3a" stroke-width="0.65" stroke-dasharray="1.3 1"/>
<circle cx="506.2" cy="437.7" r="4.5" fill="none" stroke="#3a3a3a" stroke-width="0.65" stroke-dasharray="1.3 1"/>
<circle cx="527.3" cy="437.7" r="4.5" fill="none" stroke="#3a3a3a" stroke-width="0.65" stroke-dasharray="1.3 1"/>
<circle cx="548.4" cy="437.7" r="4.5" fill="none" stroke="#3a3a3a" stroke-width="0.65" stroke-dasharray="1.3 1"/>
<circle cx="569.5" cy="437.7" r="6" fill="none" stroke="#3a3a3a" stroke-width="0.7" stroke-dasharray="1.5 1.1"/>
<circle cx="590.6" cy="437.7" r="6" fill="none" stroke="#3a3a3a" stroke-width="0.7" stroke-dasharray="1.5 1.1"/>
<circle cx="611.7" cy="437.7" r="6" fill="none" stroke="#3a3a3a" stroke-width="0.7" stroke-dasharray="1.5 1.1"/>
<circle cx="632.8" cy="437.7" r="6" fill="none" stroke="#3a3a3a" stroke-width="0.7" stroke-dasharray="1.5 1.1"/>
<circle cx="653.9" cy="437.7" r="6" fill="none" stroke="#3a3a3a" stroke-width="0.7" stroke-dasharray="1.5 1.1"/>
<circle cx="453.5" cy="456.02" r="4.5" fill="none" stroke="#3a3a3a" stroke-width="0.65" stroke-dasharray="1.3 1"/>
<circle cx="474.6" cy="456.02" r="4.5" fill="none" stroke="#3a3a3a" stroke-width="0.65" stroke-dasharray="1.3 1"/>
<circle cx="495.7" cy="456.02" r="4.5" fill="none" stroke="#3a3a3a" stroke-width="0.65" stroke-dasharray="1.3 1"/>
<circle cx="516.8" cy="456.02" r="4.5" fill="none" stroke="#3a3a3a" stroke-width="0.65" stroke-dasharray="1.3 1"/>
<circle cx="537.9" cy="456.02" r="4.5" fill="none" stroke="#3a3a3a" stroke-width="0.65" stroke-dasharray="1.3 1"/>
<circle cx="559" cy="456.02" r="6" fill="none" stroke="#3a3a3a" stroke-width="0.7" stroke-dasharray="1.5 1.1"/>
<circle cx="580.1" cy="456.02" r="6" fill="none" stroke="#3a3a3a" stroke-width="0.7" stroke-dasharray="1.5 1.1"/>
<circle cx="601.2" cy="456.02" r="6" fill="none" stroke="#3a3a3a" stroke-width="0.7" stroke-dasharray="1.5 1.1"/>
<circle cx="622.3" cy="456.02" r="6" fill="none" stroke="#3a3a3a" stroke-width="0.7" stroke-dasharray="1.5 1.1"/>
<circle cx="643.4" cy="456.02" r="6" fill="none" stroke="#3a3a3a" stroke-width="0.7" stroke-dasharray="1.5 1.1"/>
<circle cx="464" cy="474.34" r="4.5" fill="none" stroke="#3a3a3a" stroke-width="0.65" stroke-dasharray="1.3 1"/>
<circle cx="485.1" cy="474.34" r="4.5" fill="none" stroke="#3a3a3a" stroke-width="0.65" stroke-dasharray="1.3 1"/>
<circle cx="506.2" cy="474.34" r="4.5" fill="none" stroke="#3a3a3a" stroke-width="0.65" stroke-dasharray="1.3 1"/>
<circle cx="527.3" cy="474.34" r="4.5" fill="none" stroke="#3a3a3a" stroke-width="0.65" stroke-dasharray="1.3 1"/>
<circle cx="548.4" cy="474.34" r="4.5" fill="none" stroke="#3a3a3a" stroke-width="0.65" stroke-dasharray="1.3 1"/>
<circle cx="569.5" cy="474.34" r="6" fill="none" stroke="#3a3a3a" stroke-width="0.7" stroke-dasharray="1.5 1.1"/>
<circle cx="590.6" cy="474.34" r="6" fill="none" stroke="#3a3a3a" stroke-width="0.7" stroke-dasharray="1.5 1.1"/>
<circle cx="611.7" cy="474.34" r="6" fill="none" stroke="#3a3a3a" stroke-width="0.7" stroke-dasharray="1.5 1.1"/>
<circle cx="632.8" cy="474.34" r="6" fill="none" stroke="#3a3a3a" stroke-width="0.7" stroke-dasharray="1.5 1.1"/>
<circle cx="653.9" cy="474.34" r="6" fill="none" stroke="#3a3a3a" stroke-width="0.7" stroke-dasharray="1.5 1.1"/>
<circle cx="453.5" cy="492.66" r="4.5" fill="none" stroke="#3a3a3a" stroke-width="0.65" stroke-dasharray="1.3 1"/>
<circle cx="474.6" cy="492.66" r="4.5" fill="none" stroke="#3a3a3a" stroke-width="0.65" stroke-dasharray="1.3 1"/>
<circle cx="495.7" cy="492.66" r="4.5" fill="none" stroke="#3a3a3a" stroke-width="0.65" stroke-dasharray="1.3 1"/>
<circle cx="516.8" cy="492.66" r="4.5" fill="none" stroke="#3a3a3a" stroke-width="0.65" stroke-dasharray="1.3 1"/>
<circle cx="537.9" cy="492.66" r="4.5" fill="none" stroke="#3a3a3a" stroke-width="0.65" stroke-dasharray="1.3 1"/>
<circle cx="559" cy="492.66" r="6" fill="none" stroke="#3a3a3a" stroke-width="0.7" stroke-dasharray="1.5 1.1"/>
<circle cx="580.1" cy="492.66" r="6" fill="none" stroke="#3a3a3a" stroke-width="0.7" stroke-dasharray="1.5 1.1"/>
<circle cx="601.2" cy="492.66" r="6" fill="none" stroke="#3a3a3a" stroke-width="0.7" stroke-dasharray="1.5 1.1"/>
<circle cx="622.3" cy="492.66" r="6" fill="none" stroke="#3a3a3a" stroke-width="0.7" stroke-dasharray="1.5 1.1"/>
<circle cx="643.4" cy="492.66" r="6" fill="none" stroke="#3a3a3a" stroke-width="0.7" stroke-dasharray="1.5 1.1"/>
<circle cx="464" cy="510.98" r="4.5" fill="none" stroke="#3a3a3a" stroke-width="0.65" stroke-dasharray="1.3 1"/>
<circle cx="485.1" cy="510.98" r="4.5" fill="none" stroke="#3a3a3a" stroke-width="0.65" stroke-dasharray="1.3 1"/>
<circle cx="506.2" cy="510.98" r="4.5" fill="none" stroke="#3a3a3a" stroke-width="0.65" stroke-dasharray="1.3 1"/>
<circle cx="527.3" cy="510.98" r="4.5" fill="none" stroke="#3a3a3a" stroke-width="0.65" stroke-dasharray="1.3 1"/>
<circle cx="548.4" cy="510.98" r="4.5" fill="none" stroke="#3a3a3a" stroke-width="0.65" stroke-dasharray="1.3 1"/>
<circle cx="569.5" cy="510.98" r="6" fill="none" stroke="#3a3a3a" stroke-width="0.7" stroke-dasharray="1.5 1.1"/>
<circle cx="590.6" cy="510.98" r="6" fill="none" stroke="#3a3a3a" stroke-width="0.7" stroke-dasharray="1.5 1.1"/>
<circle cx="611.7" cy="510.98" r="6" fill="none" stroke="#3a3a3a" stroke-width="0.7" stroke-dasharray="1.5 1.1"/>
<circle cx="632.8" cy="510.98" r="6" fill="none" stroke="#3a3a3a" stroke-width="0.7" stroke-dasharray="1.5 1.1"/>
<circle cx="653.9" cy="510.98" r="6" fill="none" stroke="#3a3a3a" stroke-width="0.7" stroke-dasharray="1.5 1.1"/>
<circle cx="453.5" cy="529.3" r="4.5" fill="none" stroke="#3a3a3a" stroke-width="0.65" stroke-dasharray="1.3 1"/>
<circle cx="474.6" cy="529.3" r="4.5" fill="none" stroke="#3a3a3a" stroke-width="0.65" stroke-dasharray="1.3 1"/>
<circle cx="495.7" cy="529.3" r="4.5" fill="none" stroke="#3a3a3a" stroke-width="0.65" stroke-dasharray="1.3 1"/>
<circle cx="516.8" cy="529.3" r="4.5" fill="none" stroke="#3a3a3a" stroke-width="0.65" stroke-dasharray="1.3 1"/>
<circle cx="537.9" cy="529.3" r="4.5" fill="none" stroke="#3a3a3a" stroke-width="0.65" stroke-dasharray="1.3 1"/>
<circle cx="559" cy="529.3" r="6" fill="none" stroke="#3a3a3a" stroke-width="0.7" stroke-dasharray="1.5 1.1"/>
<circle cx="580.1" cy="529.3" r="6" fill="none" stroke="#3a3a3a" stroke-width="0.7" stroke-dasharray="1.5 1.1"/>
<circle cx="601.2" cy="529.3" r="6" fill="none" stroke="#3a3a3a" stroke-width="0.7" stroke-dasharray="1.5 1.1"/>
<circle cx="622.3" cy="529.3" r="6" fill="none" stroke="#3a3a3a" stroke-width="0.7" stroke-dasharray="1.5 1.1"/>
<circle cx="643.4" cy="529.3" r="6" fill="none" stroke="#3a3a3a" stroke-width="0.7" stroke-dasharray="1.5 1.1"/>
<polyline points="548.2,530.2 558.8,510.58 548.2,492.26 558.8,473.94 548.2,455.62 558.8,437.3 548.2,418.98 558.8,400.66 548.2,382.34 558.8,364.02 551.01,349.47" fill="none" stroke="#ff0000" stroke-width="2.2" stroke-linejoin="round" stroke-linecap="butt" />
<polygon points="547.7,343.3 555.7,349.23 548.2,353.24" fill="#ff0000" />
<line x1="474.9" y1="332.6" x2="474.9" y2="347" stroke="#000" stroke-width="1.8" />
<line x1="496.4" y1="332.6" x2="496.4" y2="347" stroke="#000" stroke-width="1.8" />
<line x1="480.9" y1="340" x2="490.4" y2="340" stroke="#000" stroke-width="2" />
<polygon points="496.4,340 488.9,344.25 488.9,335.75" fill="#000" />
<polygon points="474.9,340 482.4,335.75 482.4,344.25" fill="#000" />
<text x="486.9" y="357.4" text-anchor="middle" style='font-family:"Liberation Serif", serif;font-size:16.5px;font-style:italic'>a</text>
<line x1="601.6" y1="332.6" x2="601.6" y2="347" stroke="#000" stroke-width="1.8" />
<line x1="622.8" y1="332.6" x2="622.8" y2="347" stroke="#000" stroke-width="1.8" />
<line x1="607.6" y1="340" x2="616.8" y2="340" stroke="#000" stroke-width="2" />
<polygon points="622.8,340 615.3,344.25 615.3,335.75" fill="#000" />
<polygon points="601.6,340 609.1,335.75 609.1,344.25" fill="#000" />
<text x="613.9" y="357.4" text-anchor="middle" style='font-family:"Liberation Serif", serif;font-size:16.5px;font-style:italic'>a</text>
<line x1="538" y1="530" x2="538" y2="543.6" stroke="#000" stroke-width="1.8" />
<line x1="559.4" y1="530" x2="559.4" y2="543.6" stroke="#000" stroke-width="1.8" />
<line x1="544" y1="536.4" x2="553.4" y2="536.4" stroke="#000" stroke-width="2" />
<polygon points="559.4,536.4 551.9,540.65 551.9,532.15" fill="#000" />
<polygon points="538,536.4 545.5,532.15 545.5,540.65" fill="#000" />
<text x="550.6" y="553.4" text-anchor="middle" style='font-family:"Liberation Serif", serif;font-size:16.5px;font-style:italic'>a</text>
<line x1="470.2" y1="529.6" x2="470.2" y2="542.6" stroke="#000" stroke-width="1.8" />
<line x1="479.7" y1="529.6" x2="479.7" y2="542.6" stroke="#000" stroke-width="1.8" />
<line x1="452.7" y1="536.2" x2="463.2" y2="536.2" stroke="#000" stroke-width="1.9" />
<polygon points="470.2,536.2 461.2,540.45 461.2,531.95" fill="#000" />
<line x1="497.7" y1="536.2" x2="486.7" y2="536.2" stroke="#000" stroke-width="1.9" />
<polygon points="479.7,536.2 488.7,531.95 488.7,540.45" fill="#000" />
<text x="469" y="555.7" style='font-family:"Liberation Serif", serif;font-size:16.5px;font-style:italic'>D<tspan font-size="12.5" dy="4.3" font-style="normal">1</tspan></text>
<line x1="617.5" y1="529.6" x2="617.5" y2="542.6" stroke="#000" stroke-width="1.8" />
<line x1="628.8" y1="529.6" x2="628.8" y2="542.6" stroke="#000" stroke-width="1.8" />
<line x1="600" y1="535.8" x2="610.5" y2="535.8" stroke="#000" stroke-width="1.9" />
<polygon points="617.5,535.8 608.5,540.05 608.5,531.55" fill="#000" />
<line x1="646.8" y1="535.8" x2="635.8" y2="535.8" stroke="#000" stroke-width="1.9" />
<polygon points="628.8,535.8 637.8,531.55 637.8,540.05" fill="#000" />
<text x="619" y="556.2" style='font-family:"Liberation Serif", serif;font-size:16.5px;font-style:italic'>D<tspan font-size="12.5" dy="4.3" font-style="normal">2</tspan></text>
<line x1="475.28" y1="383.81" x2="463.52" y2="376.19" stroke="#000" stroke-width="1.8" />
<line x1="463.88" y1="401.41" x2="452.12" y2="393.79" stroke="#000" stroke-width="1.8" />
<line x1="466.79" y1="384.03" x2="460.61" y2="393.57" stroke="#000" stroke-width="2" />
<polygon points="458,397.6 458.32,390.66 464.2,394.47" fill="#000" />
<polygon points="469.4,380 469.08,386.94 463.2,383.13" fill="#000" />
<text transform="translate(455.9,383.8) rotate(-60)" text-anchor="middle" style='font-family:"Liberation Serif", serif;font-size:17px;font-style:italic'>a</text>
<line x1="634.21" y1="375.42" x2="622.19" y2="382.58" stroke="#000" stroke-width="1.8" />
<line x1="644.81" y1="393.22" x2="632.79" y2="400.38" stroke="#000" stroke-width="1.8" />
<line x1="630.66" y1="383.12" x2="636.34" y2="392.68" stroke="#000" stroke-width="2" />
<polygon points="638.8,396.8 632.72,393.44 638.74,389.85" fill="#000" />
<polygon points="628.2,379 634.28,382.36 628.26,385.95" fill="#000" />
<text transform="translate(642.5,384.6) rotate(60)" text-anchor="middle" style='font-family:"Liberation Serif", serif;font-size:17px;font-style:italic'>a</text>
<circle cx="695.6" cy="301.4" r="7.4" fill="#fff" stroke="#000" stroke-width="2.5"/>
<circle cx="695.6" cy="301.4" r="1.5" fill="#000"/>
<line x1="695.6" y1="292.8" x2="695.6" y2="275" stroke="#000" stroke-width="2.4" />
<polygon points="695.6,267 700.35,276.5 690.85,276.5" fill="#000" />
<line x1="704.2" y1="301.4" x2="724.6" y2="301.4" stroke="#000" stroke-width="2.4" />
<polygon points="732.6,301.4 723.1,306.15 723.1,296.65" fill="#000" />
<text x="694.8" y="263.4" text-anchor="middle" style='font-family:"Liberation Serif", serif;font-size:17px;font-style:italic'>y</text>
<text x="676.8" y="327" text-anchor="middle" style='font-family:"Liberation Serif", serif;font-size:16px;font-style:italic'>Z</text>
<text x="740" y="306.6" style='font-family:"Liberation Serif", serif;font-size:17px;font-style:italic'>x</text>
</g>
<g id="pcb">
<rect x="77.85" y="650.05" width="3.9" height="3.9" fill="#ff0000"/>
<rect x="82.7" y="650.02" width="3.9" height="3.9" fill="#ff0000"/>
<rect x="87.55" y="649.99" width="3.9" height="3.9" fill="#ff0000"/>
<rect x="92.4" y="649.97" width="3.9" height="3.9" fill="#ff0000"/>
<rect x="97.25" y="649.94" width="3.9" height="3.9" fill="#ff0000"/>
<rect x="102.1" y="649.91" width="3.9" height="3.9" fill="#ff0000"/>
<rect x="106.95" y="649.88" width="3.9" height="3.9" fill="#ff0000"/>
<rect x="111.8" y="649.85" width="3.9" height="3.9" fill="#ff0000"/>
<rect x="116.65" y="650.02" width="3.9" height="3.9" fill="#ff0000"/>
<rect x="121.49" y="650.3" width="3.9" height="3.9" fill="#ff0000"/>
<rect x="126.27" y="651.1" width="3.9" height="3.9" fill="#ff0000"/>
<rect x="131.03" y="652" width="3.9" height="3.9" fill="#ff0000"/>
<rect x="135.72" y="653.23" width="3.9" height="3.9" fill="#ff0000"/>
<rect x="140.34" y="654.71" width="3.9" height="3.9" fill="#ff0000"/>
<rect x="144.8" y="656.59" width="3.9" height="3.9" fill="#ff0000"/>
<rect x="149.1" y="658.84" width="3.9" height="3.9" fill="#ff0000"/>
<rect x="153.17" y="661.45" width="3.9" height="3.9" fill="#ff0000"/>
<rect x="157.07" y="664.34" width="3.9" height="3.9" fill="#ff0000"/>
<rect x="79.8" y="595" width="243.9" height="230" fill="none" stroke="#000" stroke-width="1.3"/>
<line x1="74.8" y1="825" x2="79.8" y2="825" stroke="#000" stroke-width="1.3" />
<text x="73.6" y="829" text-anchor="end" style='font-family:"Liberation Sans", sans-serif;font-size:12px;' fill="#111" >1.70</text>
<line x1="74.8" y1="767.5" x2="79.8" y2="767.5" stroke="#000" stroke-width="1.3" />
<text x="73.6" y="771.5" text-anchor="end" style='font-family:"Liberation Sans", sans-serif;font-size:12px;' fill="#111" >1.72</text>
<line x1="74.8" y1="710" x2="79.8" y2="710" stroke="#000" stroke-width="1.3" />
<text x="73.6" y="714" text-anchor="end" style='font-family:"Liberation Sans", sans-serif;font-size:12px;' fill="#111" >1.74</text>
<line x1="74.8" y1="652.5" x2="79.8" y2="652.5" stroke="#000" stroke-width="1.3" />
<text x="73.6" y="656.5" text-anchor="end" style='font-family:"Liberation Sans", sans-serif;font-size:12px;' fill="#111" >1.76</text>
<line x1="74.8" y1="595" x2="79.8" y2="595" stroke="#000" stroke-width="1.3" />
<text x="73.6" y="599" text-anchor="end" style='font-family:"Liberation Sans", sans-serif;font-size:12px;' fill="#111" >1.78</text>
<line x1="76.8" y1="796.25" x2="79.8" y2="796.25" stroke="#000" stroke-width="1.3" />
<line x1="76.8" y1="738.75" x2="79.8" y2="738.75" stroke="#000" stroke-width="1.3" />
<line x1="76.8" y1="681.25" x2="79.8" y2="681.25" stroke="#000" stroke-width="1.3" />
<line x1="76.8" y1="623.75" x2="79.8" y2="623.75" stroke="#000" stroke-width="1.3" />
<path fill-rule="evenodd" fill="#d9d9d9" d="M79.8,595H323.7V825H79.8Z M79.8,595 L113.2,595 L232.1,774.8 L211,790.3 L195,781.5 L180.8,773.3 L165,764 L151.5,755.7 L140,749.5 L128,744 L116,740 L104.5,737.5 L92,736.5 L79.8,736.1Z"/>
<line x1="79.8" y1="594.25" x2="79.8" y2="825.75" stroke="#000" stroke-width="1.5" />
<line x1="323.7" y1="594.25" x2="323.7" y2="825.75" stroke="#000" stroke-width="1.5" />
<line x1="79.8" y1="595" x2="323.7" y2="595" stroke="#000" stroke-width="1.5" />
<polygon points="104,641.3 94.6,656.6 113.6,656.6" fill="#0070c0" />
<line x1="79.8" y1="825" x2="79.8" y2="829.5" stroke="#000" stroke-width="1.3" />
<line x1="201.6" y1="825" x2="201.6" y2="829.5" stroke="#000" stroke-width="1.3" />
<line x1="323.7" y1="825" x2="323.7" y2="829.5" stroke="#000" stroke-width="1.3" />
<text x="76.5" y="852.6" text-anchor="middle" style='font-family:"Liberation Serif", serif;font-size:18px;' fill="#000" >0</text>
<text x="189.5" y="853.9" textLength="25.5" lengthAdjust="spacingAndGlyphs" style='font-family:"Liberation Serif", serif;font-size:25px;font-style:italic'>k<tspan font-size="20" dy="4.5">y</tspan></text>
<text x="286.8" y="851.5" textLength="62" lengthAdjust="spacingAndGlyphs" style='font-family:"Liberation Serif", serif;font-size:16.5px'>2<tspan font-style="italic">&#960;</tspan>/&#8730;3 <tspan font-style="italic">a</tspan></text>
</g>
<g id="pdb">
<rect x="475.05" y="710.65" width="3.9" height="3.9" fill="#ff0000"/>
<rect x="479.88" y="710.23" width="3.9" height="3.9" fill="#ff0000"/>
<rect x="484.51" y="708.88" width="3.9" height="3.9" fill="#ff0000"/>
<rect x="489.14" y="707.43" width="3.9" height="3.9" fill="#ff0000"/>
<rect x="493.76" y="705.95" width="3.9" height="3.9" fill="#ff0000"/>
<rect x="498.4" y="704.54" width="3.9" height="3.9" fill="#ff0000"/>
<rect x="503.09" y="703.3" width="3.9" height="3.9" fill="#ff0000"/>
<rect x="507.81" y="702.2" width="3.9" height="3.9" fill="#ff0000"/>
<rect x="512.55" y="701.17" width="3.9" height="3.9" fill="#ff0000"/>
<rect x="517.31" y="700.23" width="3.9" height="3.9" fill="#ff0000"/>
<rect x="522.08" y="699.34" width="3.9" height="3.9" fill="#ff0000"/>
<rect x="526.87" y="698.62" width="3.9" height="3.9" fill="#ff0000"/>
<rect x="531.69" y="698.11" width="3.9" height="3.9" fill="#ff0000"/>
<rect x="536.52" y="697.62" width="3.9" height="3.9" fill="#ff0000"/>
<rect x="541.36" y="697.36" width="3.9" height="3.9" fill="#ff0000"/>
<rect x="546.2" y="697.09" width="3.9" height="3.9" fill="#ff0000"/>
<rect x="551.04" y="696.82" width="3.9" height="3.9" fill="#ff0000"/>
<rect x="555.89" y="696.55" width="3.9" height="3.9" fill="#ff0000"/>
<rect x="560.73" y="696.46" width="3.9" height="3.9" fill="#ff0000"/>
<rect x="565.58" y="696.48" width="3.9" height="3.9" fill="#ff0000"/>
<rect x="570.43" y="696.49" width="3.9" height="3.9" fill="#ff0000"/>
<rect x="575.28" y="696.51" width="3.9" height="3.9" fill="#ff0000"/>
<rect x="580.13" y="696.53" width="3.9" height="3.9" fill="#ff0000"/>
<rect x="584.98" y="696.54" width="3.9" height="3.9" fill="#ff0000"/>
<rect x="589.83" y="696.63" width="3.9" height="3.9" fill="#ff0000"/>
<rect x="594.68" y="696.76" width="3.9" height="3.9" fill="#ff0000"/>
<rect x="599.53" y="696.89" width="3.9" height="3.9" fill="#ff0000"/>
<rect x="604.38" y="697.02" width="3.9" height="3.9" fill="#ff0000"/>
<rect x="609.23" y="697.15" width="3.9" height="3.9" fill="#ff0000"/>
<rect x="614.07" y="697.29" width="3.9" height="3.9" fill="#ff0000"/>
<rect x="618.92" y="697.4" width="3.9" height="3.9" fill="#ff0000"/>
<rect x="623.77" y="697.49" width="3.9" height="3.9" fill="#ff0000"/>
<rect x="628.62" y="697.58" width="3.9" height="3.9" fill="#ff0000"/>
<rect x="633.47" y="697.67" width="3.9" height="3.9" fill="#ff0000"/>
<rect x="638.32" y="697.76" width="3.9" height="3.9" fill="#ff0000"/>
<rect x="643.17" y="697.85" width="3.9" height="3.9" fill="#ff0000"/>
<rect x="648.02" y="697.87" width="3.9" height="3.9" fill="#ff0000"/>
<rect x="652.87" y="697.89" width="3.9" height="3.9" fill="#ff0000"/>
<rect x="657.72" y="697.9" width="3.9" height="3.9" fill="#ff0000"/>
<rect x="662.57" y="697.92" width="3.9" height="3.9" fill="#ff0000"/>
<rect x="667.42" y="697.94" width="3.9" height="3.9" fill="#ff0000"/>
<rect x="429.7" y="598.2" width="242.1" height="228.8" fill="none" stroke="#000" stroke-width="1.3"/>
<line x1="424.7" y1="827" x2="429.7" y2="827" stroke="#000" stroke-width="1.3" />
<text x="423.3" y="831" text-anchor="end" style='font-family:"Liberation Sans", sans-serif;font-size:12px;' fill="#111" >1.70</text>
<line x1="424.7" y1="750.73" x2="429.7" y2="750.73" stroke="#000" stroke-width="1.3" />
<text x="423.3" y="754.73" text-anchor="end" style='font-family:"Liberation Sans", sans-serif;font-size:12px;' fill="#111" >1.72</text>
<line x1="424.7" y1="674.47" x2="429.7" y2="674.47" stroke="#000" stroke-width="1.3" />
<text x="423.3" y="678.47" text-anchor="end" style='font-family:"Liberation Sans", sans-serif;font-size:12px;' fill="#111" >1.74</text>
<line x1="424.7" y1="598.2" x2="429.7" y2="598.2" stroke="#000" stroke-width="1.3" />
<text x="423.3" y="602.2" text-anchor="end" style='font-family:"Liberation Sans", sans-serif;font-size:12px;' fill="#111" >1.76</text>
<line x1="426.7" y1="788.87" x2="429.7" y2="788.87" stroke="#000" stroke-width="1.3" />
<line x1="426.7" y1="712.6" x2="429.7" y2="712.6" stroke="#000" stroke-width="1.3" />
<line x1="426.7" y1="636.33" x2="429.7" y2="636.33" stroke="#000" stroke-width="1.3" />
<path fill-rule="evenodd" fill="#d9d9d9" d="M429.7,598.2H671.8V827H429.7Z M571,598.2 L671.8,598.2 L671.8,787.3 L634,769 L595,750.7 L560,737.5 L524.5,724.3 L495,717 L468.8,710.5Z"/>
<line x1="429.7" y1="597.45" x2="429.7" y2="827.75" stroke="#000" stroke-width="1.5" />
<polygon points="640.4,691.1 631,706.7 649.8,706.7" fill="#0070c0" />
<line x1="429.7" y1="827" x2="429.7" y2="831.5" stroke="#000" stroke-width="1.3" />
<line x1="550.5" y1="827" x2="550.5" y2="831.5" stroke="#000" stroke-width="1.3" />
<line x1="671.8" y1="827" x2="671.8" y2="831.5" stroke="#000" stroke-width="1.3" />
<text x="428.5" y="849.6" text-anchor="middle" style='font-family:"Liberation Serif", serif;font-size:15px;' fill="#000" >0</text>
<text x="542.5" y="855.8" textLength="26" lengthAdjust="spacingAndGlyphs" style='font-family:"Liberation Serif", serif;font-size:25px;font-style:italic'>k<tspan font-size="20" dy="4.5">y</tspan></text>
<text x="641" y="849.5" textLength="52.5" lengthAdjust="spacingAndGlyphs" style='font-family:"Liberation Serif", serif;font-size:14.5px'><tspan font-style="italic">&#960;</tspan>/&#8730;3 <tspan font-style="italic">a</tspan></text>
</g>
<g id="strips">
<polygon points="70.8,980.4 285,858.4 285,865.3 70.8,986.8" fill="#7af47a" stroke="#3a5a3a" stroke-width="0.5"/>
<line x1="70.8" y1="987" x2="285" y2="865.5" stroke="#2b3b2b" stroke-width="0.9" />
<circle cx="73.6" cy="982.4" r="1.4" fill="none" stroke="#4a704a" stroke-width="0.55"/>
<circle cx="78.99" cy="979.33" r="1.4" fill="none" stroke="#4a704a" stroke-width="0.55"/>
<circle cx="84.37" cy="976.26" r="1.4" fill="none" stroke="#4a704a" stroke-width="0.55"/>
<circle cx="89.76" cy="973.19" r="1.4" fill="none" stroke="#4a704a" stroke-width="0.55"/>
<circle cx="95.15" cy="970.13" r="1.4" fill="none" stroke="#4a704a" stroke-width="0.55"/>
<circle cx="100.54" cy="967.06" r="1.4" fill="none" stroke="#4a704a" stroke-width="0.55"/>
<circle cx="105.92" cy="963.99" r="1.4" fill="none" stroke="#4a704a" stroke-width="0.55"/>
<circle cx="111.31" cy="960.92" r="1.4" fill="none" stroke="#4a704a" stroke-width="0.55"/>
<circle cx="116.7" cy="957.85" r="1.4" fill="none" stroke="#4a704a" stroke-width="0.55"/>
<circle cx="122.09" cy="954.78" r="1.4" fill="none" stroke="#4a704a" stroke-width="0.55"/>
<circle cx="127.47" cy="951.72" r="1.4" fill="none" stroke="#4a704a" stroke-width="0.55"/>
<circle cx="132.86" cy="948.65" r="1.4" fill="none" stroke="#4a704a" stroke-width="0.55"/>
<circle cx="138.25" cy="945.58" r="1.4" fill="none" stroke="#4a704a" stroke-width="0.55"/>
<circle cx="143.64" cy="942.51" r="1.4" fill="none" stroke="#4a704a" stroke-width="0.55"/>
<circle cx="149.02" cy="939.44" r="1.4" fill="none" stroke="#4a704a" stroke-width="0.55"/>
<circle cx="154.41" cy="936.37" r="1.4" fill="none" stroke="#4a704a" stroke-width="0.55"/>
<circle cx="159.8" cy="933.3" r="1.4" fill="none" stroke="#4a704a" stroke-width="0.55"/>
<circle cx="165.19" cy="930.24" r="1.4" fill="none" stroke="#4a704a" stroke-width="0.55"/>
<circle cx="192.12" cy="914.89" r="1.4" fill="none" stroke="#4a704a" stroke-width="0.55"/>
<circle cx="197.51" cy="911.83" r="1.4" fill="none" stroke="#4a704a" stroke-width="0.55"/>
<circle cx="202.9" cy="908.76" r="1.4" fill="none" stroke="#4a704a" stroke-width="0.55"/>
<circle cx="208.29" cy="905.69" r="1.4" fill="none" stroke="#4a704a" stroke-width="0.55"/>
<circle cx="213.67" cy="902.62" r="1.4" fill="none" stroke="#4a704a" stroke-width="0.55"/>
<circle cx="219.06" cy="899.55" r="1.4" fill="none" stroke="#4a704a" stroke-width="0.55"/>
<circle cx="224.45" cy="896.48" r="1.4" fill="none" stroke="#4a704a" stroke-width="0.55"/>
<circle cx="229.84" cy="893.41" r="1.4" fill="none" stroke="#4a704a" stroke-width="0.55"/>
<circle cx="235.22" cy="890.35" r="1.4" fill="none" stroke="#4a704a" stroke-width="0.55"/>
<circle cx="240.61" cy="887.28" r="1.4" fill="none" stroke="#4a704a" stroke-width="0.55"/>
<circle cx="246" cy="884.21" r="1.4" fill="none" stroke="#4a704a" stroke-width="0.55"/>
<circle cx="251.39" cy="881.14" r="1.4" fill="none" stroke="#4a704a" stroke-width="0.55"/>
<circle cx="256.77" cy="878.07" r="1.4" fill="none" stroke="#4a704a" stroke-width="0.55"/>
<circle cx="262.16" cy="875" r="1.4" fill="none" stroke="#4a704a" stroke-width="0.55"/>
<circle cx="267.55" cy="871.93" r="1.4" fill="none" stroke="#4a704a" stroke-width="0.55"/>
<circle cx="272.94" cy="868.87" r="1.4" fill="none" stroke="#4a704a" stroke-width="0.55"/>
<circle cx="278.32" cy="865.8" r="1.4" fill="none" stroke="#4a704a" stroke-width="0.55"/>
<ellipse cx="171" cy="926.5" rx="3" ry="2.6" fill="#ffd000"/>
<ellipse cx="174" cy="924.5" rx="2.5" ry="3" fill="#ff8000"/>
<ellipse cx="176.5" cy="923" rx="2.4" ry="2.8" fill="#c00000"/>
<ellipse cx="178.5" cy="921.8" rx="2" ry="2.6" fill="#ff3000"/>
<ellipse cx="173.2" cy="925.2" rx="1.3" ry="1.3" fill="#0040ff"/>
<ellipse cx="178" cy="922.3" rx="1.3" ry="1.3" fill="#0060ff"/>
<ellipse cx="181.5" cy="920.6" rx="2.4" ry="2.2" fill="#ffe000"/>
<ellipse cx="183" cy="919.6" rx="1.5" ry="1.5" fill="#00d0ff"/>
<ellipse cx="186" cy="918" rx="1.7" ry="1.6" fill="#a0ff60"/>
<defs><clipPath id="dstrip"><rect x="436.3" y="911.6" width="255.2" height="11.2"/></clipPath></defs>
<rect x="436.3" y="911.6" width="255.2" height="11.2" fill="#7cf77c"/>
<g clip-path="url(#dstrip)">
<circle cx="436.7" cy="917.1" r="1.5" fill="none" stroke="#4a804a" stroke-width="0.6"/>
<circle cx="439.85" cy="911.6" r="1.5" fill="none" stroke="#4a804a" stroke-width="0.6"/>
<circle cx="439.85" cy="922.8" r="1.5" fill="none" stroke="#4a804a" stroke-width="0.6"/>
<circle cx="443" cy="917.1" r="1.5" fill="none" stroke="#4a804a" stroke-width="0.6"/>
<circle cx="446.15" cy="911.6" r="1.5" fill="none" stroke="#4a804a" stroke-width="0.6"/>
<circle cx="446.15" cy="922.8" r="1.5" fill="none" stroke="#4a804a" stroke-width="0.6"/>
<circle cx="449.3" cy="917.1" r="1.5" fill="none" stroke="#4a804a" stroke-width="0.6"/>
<circle cx="452.45" cy="911.6" r="1.5" fill="none" stroke="#4a804a" stroke-width="0.6"/>
<circle cx="452.45" cy="922.8" r="1.5" fill="none" stroke="#4a804a" stroke-width="0.6"/>
<circle cx="455.6" cy="917.1" r="1.5" fill="none" stroke="#4a804a" stroke-width="0.6"/>
<circle cx="458.75" cy="911.6" r="1.5" fill="none" stroke="#4a804a" stroke-width="0.6"/>
<circle cx="458.75" cy="922.8" r="1.5" fill="none" stroke="#4a804a" stroke-width="0.6"/>
<circle cx="461.9" cy="917.1" r="1.5" fill="none" stroke="#4a804a" stroke-width="0.6"/>
<circle cx="465.05" cy="911.6" r="1.5" fill="none" stroke="#4a804a" stroke-width="0.6"/>
<circle cx="465.05" cy="922.8" r="1.5" fill="none" stroke="#4a804a" stroke-width="0.6"/>
<circle cx="468.2" cy="917.1" r="1.5" fill="none" stroke="#4a804a" stroke-width="0.6"/>
<circle cx="471.35" cy="911.6" r="1.5" fill="none" stroke="#4a804a" stroke-width="0.6"/>
<circle cx="471.35" cy="922.8" r="1.5" fill="none" stroke="#4a804a" stroke-width="0.6"/>
<circle cx="474.5" cy="917.1" r="1.5" fill="none" stroke="#4a804a" stroke-width="0.6"/>
<circle cx="477.65" cy="911.6" r="1.5" fill="none" stroke="#4a804a" stroke-width="0.6"/>
<circle cx="477.65" cy="922.8" r="1.5" fill="none" stroke="#4a804a" stroke-width="0.6"/>
<circle cx="480.8" cy="917.1" r="1.5" fill="none" stroke="#4a804a" stroke-width="0.6"/>
<circle cx="483.95" cy="911.6" r="1.5" fill="none" stroke="#4a804a" stroke-width="0.6"/>
<circle cx="483.95" cy="922.8" r="1.5" fill="none" stroke="#4a804a" stroke-width="0.6"/>
<circle cx="487.1" cy="917.1" r="1.5" fill="none" stroke="#4a804a" stroke-width="0.6"/>
<circle cx="490.25" cy="911.6" r="1.5" fill="none" stroke="#4a804a" stroke-width="0.6"/>
<circle cx="490.25" cy="922.8" r="1.5" fill="none" stroke="#4a804a" stroke-width="0.6"/>
<circle cx="493.4" cy="917.1" r="1.5" fill="none" stroke="#4a804a" stroke-width="0.6"/>
<circle cx="496.55" cy="911.6" r="1.5" fill="none" stroke="#4a804a" stroke-width="0.6"/>
<circle cx="496.55" cy="922.8" r="1.5" fill="none" stroke="#4a804a" stroke-width="0.6"/>
<circle cx="499.7" cy="917.1" r="1.5" fill="none" stroke="#4a804a" stroke-width="0.6"/>
<circle cx="502.85" cy="911.6" r="1.5" fill="none" stroke="#4a804a" stroke-width="0.6"/>
<circle cx="502.85" cy="922.8" r="1.5" fill="none" stroke="#4a804a" stroke-width="0.6"/>
<circle cx="506" cy="917.1" r="1.5" fill="none" stroke="#4a804a" stroke-width="0.6"/>
<circle cx="509.15" cy="911.6" r="1.5" fill="none" stroke="#4a804a" stroke-width="0.6"/>
<circle cx="509.15" cy="922.8" r="1.5" fill="none" stroke="#4a804a" stroke-width="0.6"/>
<circle cx="512.3" cy="917.1" r="1.5" fill="none" stroke="#4a804a" stroke-width="0.6"/>
<circle cx="515.45" cy="911.6" r="1.5" fill="none" stroke="#4a804a" stroke-width="0.6"/>
<circle cx="515.45" cy="922.8" r="1.5" fill="none" stroke="#4a804a" stroke-width="0.6"/>
<circle cx="518.6" cy="917.1" r="1.5" fill="none" stroke="#4a804a" stroke-width="0.6"/>
<circle cx="521.75" cy="911.6" r="1.5" fill="none" stroke="#4a804a" stroke-width="0.6"/>
<circle cx="521.75" cy="922.8" r="1.5" fill="none" stroke="#4a804a" stroke-width="0.6"/>
<circle cx="524.9" cy="917.1" r="1.5" fill="none" stroke="#4a804a" stroke-width="0.6"/>
<circle cx="528.05" cy="911.6" r="1.5" fill="none" stroke="#4a804a" stroke-width="0.6"/>
<circle cx="528.05" cy="922.8" r="1.5" fill="none" stroke="#4a804a" stroke-width="0.6"/>
<circle cx="531.2" cy="917.1" r="1.5" fill="none" stroke="#4a804a" stroke-width="0.6"/>
<circle cx="534.35" cy="911.6" r="1.5" fill="none" stroke="#4a804a" stroke-width="0.6"/>
<circle cx="534.35" cy="922.8" r="1.5" fill="none" stroke="#4a804a" stroke-width="0.6"/>
<circle cx="537.5" cy="917.1" r="1.5" fill="none" stroke="#4a804a" stroke-width="0.6"/>
<circle cx="540.65" cy="911.6" r="1.5" fill="none" stroke="#4a804a" stroke-width="0.6"/>
<circle cx="540.65" cy="922.8" r="1.5" fill="none" stroke="#4a804a" stroke-width="0.6"/>
<circle cx="543.8" cy="917.1" r="1.5" fill="none" stroke="#4a804a" stroke-width="0.6"/>
<circle cx="578.45" cy="911.6" r="2.1" fill="none" stroke="#4a804a" stroke-width="0.6"/>
<circle cx="578.45" cy="922.8" r="2.1" fill="none" stroke="#4a804a" stroke-width="0.6"/>
<circle cx="581.6" cy="917.1" r="2.1" fill="none" stroke="#4a804a" stroke-width="0.6"/>
<circle cx="584.75" cy="911.6" r="2.1" fill="none" stroke="#4a804a" stroke-width="0.6"/>
<circle cx="584.75" cy="922.8" r="2.1" fill="none" stroke="#4a804a" stroke-width="0.6"/>
<circle cx="587.9" cy="917.1" r="2.1" fill="none" stroke="#4a804a" stroke-width="0.6"/>
<circle cx="591.05" cy="911.6" r="2.1" fill="none" stroke="#4a804a" stroke-width="0.6"/>
<circle cx="591.05" cy="922.8" r="2.1" fill="none" stroke="#4a804a" stroke-width="0.6"/>
<circle cx="594.2" cy="917.1" r="2.1" fill="none" stroke="#4a804a" stroke-width="0.6"/>
<circle cx="597.35" cy="911.6" r="2.1" fill="none" stroke="#4a804a" stroke-width="0.6"/>
<circle cx="597.35" cy="922.8" r="2.1" fill="none" stroke="#4a804a" stroke-width="0.6"/>
<circle cx="600.5" cy="917.1" r="2.1" fill="none" stroke="#4a804a" stroke-width="0.6"/>
<circle cx="603.65" cy="911.6" r="2.1" fill="none" stroke="#4a804a" stroke-width="0.6"/>
<circle cx="603.65" cy="922.8" r="2.1" fill="none" stroke="#4a804a" stroke-width="0.6"/>
<circle cx="606.8" cy="917.1" r="2.1" fill="none" stroke="#4a804a" stroke-width="0.6"/>
<circle cx="609.95" cy="911.6" r="2.1" fill="none" stroke="#4a804a" stroke-width="0.6"/>
<circle cx="609.95" cy="922.8" r="2.1" fill="none" stroke="#4a804a" stroke-width="0.6"/>
<circle cx="613.1" cy="917.1" r="2.1" fill="none" stroke="#4a804a" stroke-width="0.6"/>
<circle cx="616.25" cy="911.6" r="2.1" fill="none" stroke="#4a804a" stroke-width="0.6"/>
<circle cx="616.25" cy="922.8" r="2.1" fill="none" stroke="#4a804a" stroke-width="0.6"/>
<circle cx="619.4" cy="917.1" r="2.1" fill="none" stroke="#4a804a" stroke-width="0.6"/>
<circle cx="622.55" cy="911.6" r="2.1" fill="none" stroke="#4a804a" stroke-width="0.6"/>
<circle cx="622.55" cy="922.8" r="2.1" fill="none" stroke="#4a804a" stroke-width="0.6"/>
<circle cx="625.7" cy="917.1" r="2.1" fill="none" stroke="#4a804a" stroke-width="0.6"/>
<circle cx="628.85" cy="911.6" r="2.1" fill="none" stroke="#4a804a" stroke-width="0.6"/>
<circle cx="628.85" cy="922.8" r="2.1" fill="none" stroke="#4a804a" stroke-width="0.6"/>
<circle cx="632" cy="917.1" r="2.1" fill="none" stroke="#4a804a" stroke-width="0.6"/>
<circle cx="635.15" cy="911.6" r="2.1" fill="none" stroke="#4a804a" stroke-width="0.6"/>
<circle cx="635.15" cy="922.8" r="2.1" fill="none" stroke="#4a804a" stroke-width="0.6"/>
<circle cx="638.3" cy="917.1" r="2.1" fill="none" stroke="#4a804a" stroke-width="0.6"/>
<circle cx="641.45" cy="911.6" r="2.1" fill="none" stroke="#4a804a" stroke-width="0.6"/>
<circle cx="641.45" cy="922.8" r="2.1" fill="none" stroke="#4a804a" stroke-width="0.6"/>
<circle cx="644.6" cy="917.1" r="2.1" fill="none" stroke="#4a804a" stroke-width="0.6"/>
<circle cx="647.75" cy="911.6" r="2.1" fill="none" stroke="#4a804a" stroke-width="0.6"/>
<circle cx="647.75" cy="922.8" r="2.1" fill="none" stroke="#4a804a" stroke-width="0.6"/>
<circle cx="650.9" cy="917.1" r="2.1" fill="none" stroke="#4a804a" stroke-width="0.6"/>
<circle cx="654.05" cy="911.6" r="2.1" fill="none" stroke="#4a804a" stroke-width="0.6"/>
<circle cx="654.05" cy="922.8" r="2.1" fill="none" stroke="#4a804a" stroke-width="0.6"/>
<circle cx="657.2" cy="917.1" r="2.1" fill="none" stroke="#4a804a" stroke-width="0.6"/>
<circle cx="660.35" cy="911.6" r="2.1" fill="none" stroke="#4a804a" stroke-width="0.6"/>
<circle cx="660.35" cy="922.8" r="2.1" fill="none" stroke="#4a804a" stroke-width="0.6"/>
<circle cx="663.5" cy="917.1" r="2.1" fill="none" stroke="#4a804a" stroke-width="0.6"/>
<circle cx="666.65" cy="911.6" r="2.1" fill="none" stroke="#4a804a" stroke-width="0.6"/>
<circle cx="666.65" cy="922.8" r="2.1" fill="none" stroke="#4a804a" stroke-width="0.6"/>
<circle cx="669.8" cy="917.1" r="2.1" fill="none" stroke="#4a804a" stroke-width="0.6"/>
<circle cx="672.95" cy="911.6" r="2.1" fill="none" stroke="#4a804a" stroke-width="0.6"/>
<circle cx="672.95" cy="922.8" r="2.1" fill="none" stroke="#4a804a" stroke-width="0.6"/>
<circle cx="676.1" cy="917.1" r="2.1" fill="none" stroke="#4a804a" stroke-width="0.6"/>
<circle cx="679.25" cy="911.6" r="2.1" fill="none" stroke="#4a804a" stroke-width="0.6"/>
<circle cx="679.25" cy="922.8" r="2.1" fill="none" stroke="#4a804a" stroke-width="0.6"/>
<circle cx="682.4" cy="917.1" r="2.1" fill="none" stroke="#4a804a" stroke-width="0.6"/>
<circle cx="685.55" cy="911.6" r="2.1" fill="none" stroke="#4a804a" stroke-width="0.6"/>
<circle cx="685.55" cy="922.8" r="2.1" fill="none" stroke="#4a804a" stroke-width="0.6"/>
<circle cx="688.7" cy="917.1" r="2.1" fill="none" stroke="#4a804a" stroke-width="0.6"/>
</g>
<line x1="436.3" y1="922.8" x2="691.5" y2="922.8" stroke="#2b4b2b" stroke-width="0.7" />
<line x1="436.3" y1="911.6" x2="691.5" y2="911.6" stroke="#6a8a6a" stroke-width="0.4" />
<ellipse cx="551" cy="917" rx="2.5" ry="5" fill="#ffd000"/>
<ellipse cx="553.5" cy="917" rx="2" ry="5" fill="#ff8000"/>
<ellipse cx="557" cy="917" rx="1.6" ry="1.6" fill="#0040ff"/>
<ellipse cx="561" cy="918" rx="3" ry="3.5" fill="#b00000"/>
<ellipse cx="564.5" cy="916" rx="1.5" ry="1.6" fill="#0030ff"/>
<ellipse cx="566.5" cy="913.5" rx="2.2" ry="2" fill="#c00000"/>
<ellipse cx="567" cy="920.5" rx="2" ry="2" fill="#c00000"/>
<ellipse cx="560" cy="912.5" rx="1.3" ry="1" fill="#0040ff"/>
<ellipse cx="569.5" cy="917" rx="1.6" ry="1.6" fill="#00c0ff"/>
<ellipse cx="563" cy="921.5" rx="1.3" ry="1" fill="#0030ff"/>
<ellipse cx="572.5" cy="917" rx="2" ry="4" fill="#a0ff40"/>
<ellipse cx="555" cy="914" rx="1.5" ry="1.5" fill="#00e0ff"/>
<circle cx="82.8" cy="924.3" r="7.4" fill="#fff" stroke="#000" stroke-width="2.5"/>
<circle cx="82.8" cy="924.3" r="1.5" fill="#000"/>
<line x1="82.8" y1="915.7" x2="82.8" y2="896.3" stroke="#000" stroke-width="2.4" />
<polygon points="82.8,888.3 87.55,897.8 78.05,897.8" fill="#000" />
<line x1="90.37" y1="920.22" x2="108.06" y2="910.69" stroke="#000" stroke-width="2.4" />
<polygon points="115.1,906.9 108.99,915.59 104.48,907.22" fill="#000" />
<text x="82.8" y="882.7" text-anchor="middle" style='font-family:"Liberation Serif", serif;font-size:17px;font-style:italic'>y</text>
<text x="65.2" y="945.6" text-anchor="middle" style='font-family:"Liberation Serif", serif;font-size:16px;font-style:italic'>Z</text>
<text x="117.5" y="912.5" style='font-family:"Liberation Serif", serif;font-size:17px;font-style:italic'>x&#8242;</text>
<circle cx="423.9" cy="940" r="7.4" fill="#fff" stroke="#000" stroke-width="2.5"/>
<circle cx="423.9" cy="940" r="1.5" fill="#000"/>
<line x1="423.9" y1="931.4" x2="423.9" y2="913.2" stroke="#000" stroke-width="2.4" />
<polygon points="423.9,905.2 428.65,914.7 419.15,914.7" fill="#000" />
<line x1="432.5" y1="940" x2="452.8" y2="940" stroke="#000" stroke-width="2.4" />
<polygon points="460.8,940 451.3,944.75 451.3,935.25" fill="#000" />
<text x="423.9" y="895.6" text-anchor="middle" style='font-family:"Liberation Serif", serif;font-size:17px;font-style:italic'>y</text>
<text x="406.4" y="961.7" text-anchor="middle" style='font-family:"Liberation Serif", serif;font-size:16px;font-style:italic'>Z</text>
<text x="467" y="945" style='font-family:"Liberation Serif", serif;font-size:17px;font-style:italic'>x</text>
<defs><linearGradient id="jet" x1="0" x2="1" y1="0" y2="0">
<stop offset="0" stop-color="#00008f"/><stop offset="0.11" stop-color="#0000ff"/><stop offset="0.36" stop-color="#00ffff"/><stop offset="0.5" stop-color="#7fff7f"/><stop offset="0.62" stop-color="#ffff00"/><stop offset="0.87" stop-color="#ff0000"/><stop offset="1" stop-color="#800000"/></linearGradient></defs>
<rect x="250.4" y="953.6" width="93.2" height="5.8" fill="url(#jet)"/>
<text x="244.5" y="962.5" text-anchor="end" style='font-family:"Liberation Sans", sans-serif;font-size:14.5px;' fill="#000" >-1</text>
<text x="351.5" y="962.5" text-anchor="start" style='font-family:"Liberation Sans", sans-serif;font-size:14.5px;' fill="#000" >1</text>
<text x="230.7" y="977.2" textLength="125.5" lengthAdjust="spacingAndGlyphs" style='font-family:"Liberation Sans", sans-serif;font-size:10.9px'>Normalized pressure(Pa)</text>
</g>
</svg></body></html>
